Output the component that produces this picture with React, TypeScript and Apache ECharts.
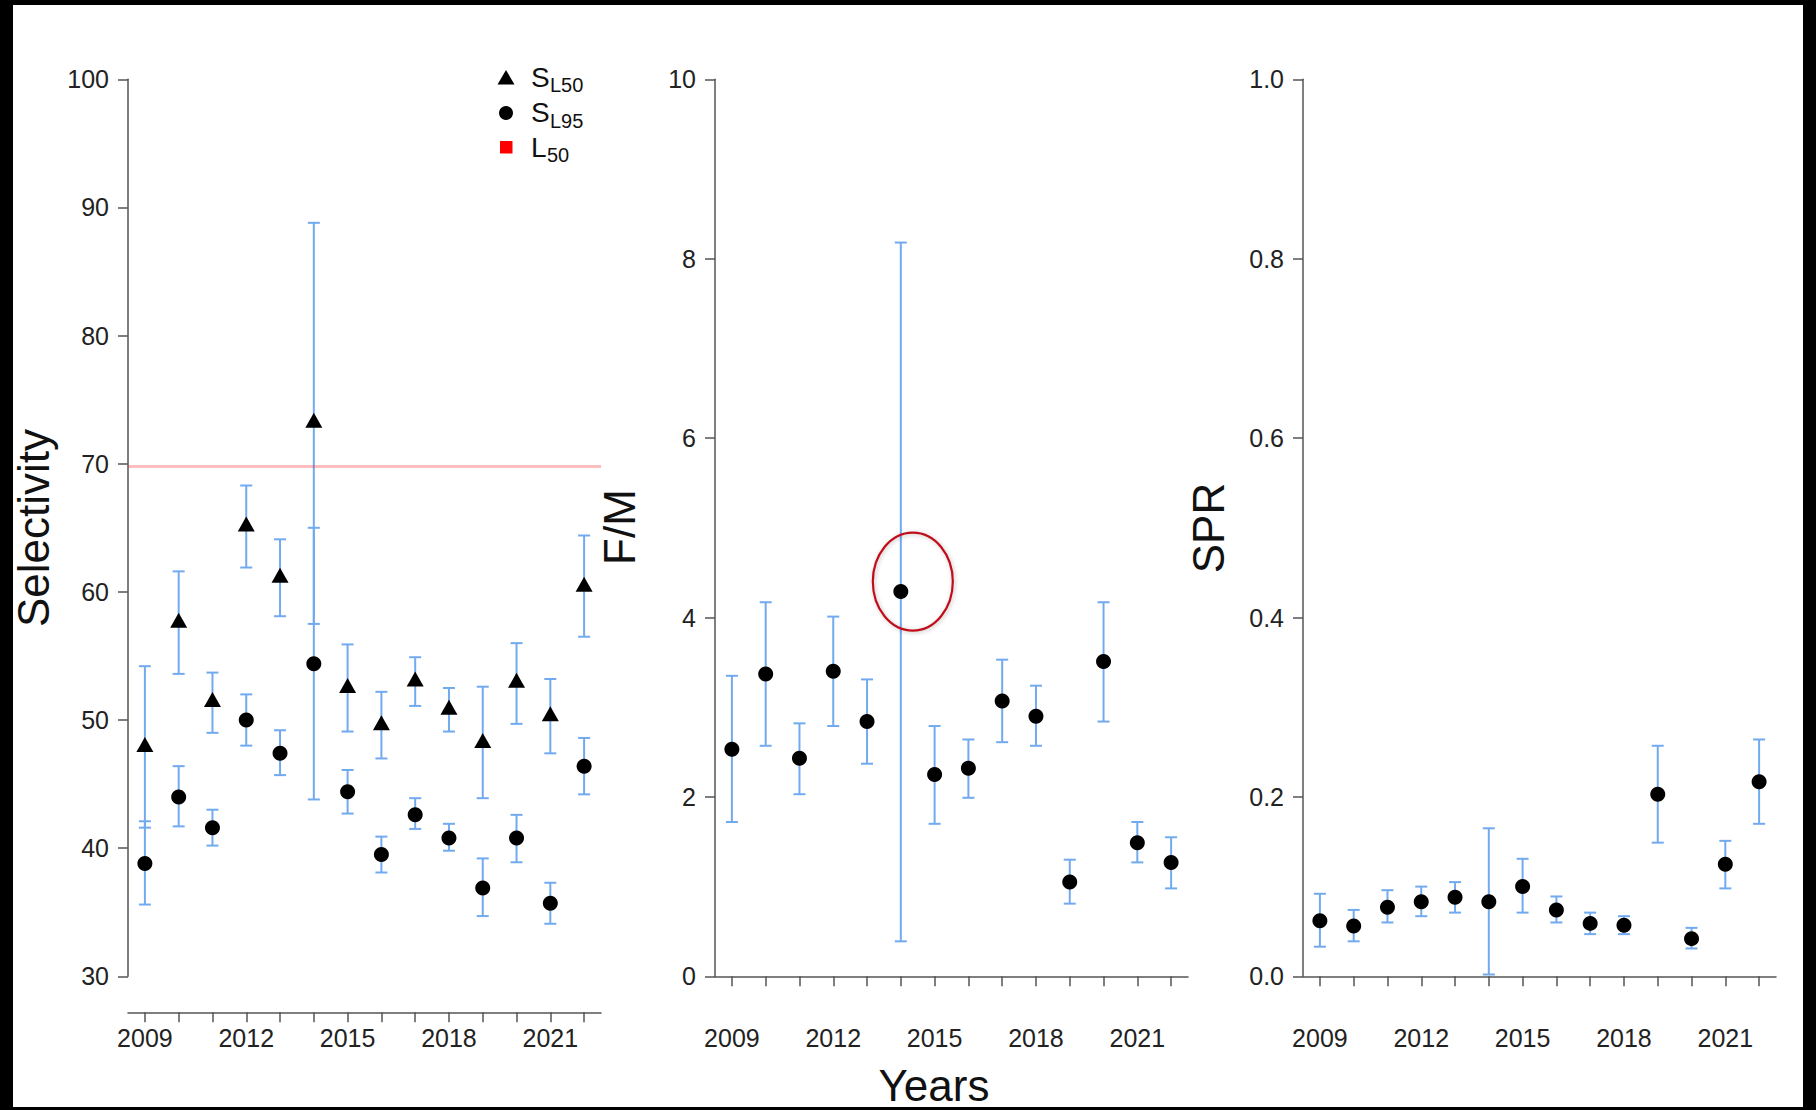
import React, { useEffect, useRef } from 'react';
import * as echarts from 'echarts';

// ---------- data ----------
const years = ['2009', '2010', '2011', '2012', '2013', '2014', '2015', '2016', '2017', '2018', '2019', '2020', '2021', '2022'];

const sl50 = [47.9, 57.6, 51.4, 65.1, 61.1, 73.2, 52.5, 49.6, 53.0, 50.8, 48.2, 52.9, 50.3, 60.4];
const sl50Low = [41.6, 53.6, 49.0, 61.9, 58.1, 57.5, 49.1, 47.0, 51.1, 49.1, 43.9, 49.7, 47.4, 56.5];
const sl50High = [54.2, 61.6, 53.7, 68.3, 64.1, 88.8, 55.9, 52.2, 54.9, 52.5, 52.6, 56.0, 53.2, 64.4];

const sl95 = [38.8, 44.0, 41.6, 50.0, 47.4, 54.4, 44.4, 39.5, 42.6, 40.8, 36.9, 40.8, 35.7, 46.4];
const sl95Low = [35.6, 41.7, 40.2, 48.0, 45.7, 43.8, 42.7, 38.1, 41.5, 39.8, 34.7, 38.9, 34.1, 44.2];
const sl95High = [42.1, 46.4, 43.0, 52.0, 49.2, 65.0, 46.1, 40.9, 43.9, 41.9, 39.2, 42.6, 37.3, 48.6];

const l50 = 69.8;

const fm = [2.53, 3.37, 2.43, 3.40, 2.84, 4.29, 2.25, 2.32, 3.07, 2.90, 1.05, 3.51, 1.49, 1.27];
const fmLow = [1.72, 2.57, 2.03, 2.79, 2.37, 0.39, 1.70, 1.99, 2.61, 2.57, 0.81, 2.84, 1.27, 0.98];
const fmHigh = [3.35, 4.17, 2.82, 4.01, 3.31, 8.18, 2.79, 2.64, 3.53, 3.24, 1.30, 4.17, 1.72, 1.55];

const spr = [0.062, 0.056, 0.077, 0.083, 0.088, 0.083, 0.100, 0.074, 0.059, 0.057, 0.203, 0.042, 0.125, 0.217];
const sprLow = [0.033, 0.039, 0.060, 0.067, 0.071, 0.002, 0.071, 0.060, 0.047, 0.047, 0.149, 0.031, 0.098, 0.170];
const sprHigh = [0.092, 0.074, 0.096, 0.100, 0.105, 0.165, 0.131, 0.089, 0.071, 0.067, 0.257, 0.054, 0.151, 0.264];

// highlighted point (annotation) in F/M panel
const highlightYear = '2014';
const highlightValue = 4.4;

const yTitles = ['Selectivity', 'F/M', 'SPR'];
const xTitle = 'Years';

// ---------- styles ----------
const FONT = '"Liberation Sans", Arial, Helvetica, sans-serif';
const BAR_COLOR = '#72aaef';
const AXIS_COLOR = '#555';
const LABEL_COLOR = '#222';

const gridLefts = [128, 715, 1303];
const GRID_W = 473;
const GRID_TOP = 79.3;
const GRID_H = 897;

function errorSeries(name: string, idx: number, lo: number[], hi: number[]) {
  return {
    name,
    type: 'custom',
    xAxisIndex: idx,
    yAxisIndex: idx,
    silent: true,
    z: 2,
    encode: { x: 0, y: [1, 2] },
    data: years.map((_, i) => [i, lo[i], hi[i]]),
    renderItem: (_params: any, api: any) => {
      const x = api.value(0);
      const p1 = api.coord([x, api.value(1)]);
      const p2 = api.coord([x, api.value(2)]);
      const hw = 6;
      const style = { stroke: BAR_COLOR, lineWidth: 2 };
      return {
        type: 'group',
        children: [
          { type: 'line', shape: { x1: p1[0], y1: p1[1], x2: p2[0], y2: p2[1] }, style },
          { type: 'line', shape: { x1: p1[0] - hw, y1: p1[1], x2: p1[0] + hw, y2: p1[1] }, style },
          { type: 'line', shape: { x1: p2[0] - hw, y1: p2[1], x2: p2[0] + hw, y2: p2[1] }, style },
        ],
      };
    },
  };
}

function xAxisCfg(idx: number) {
  return {
    type: 'category',
    gridIndex: idx,
    data: years,
    boundaryGap: true,
    offset: 36,
    axisLine: { show: true, lineStyle: { color: AXIS_COLOR, width: 1.5 } },
    axisTick: { show: true, alignWithLabel: true, interval: 0, length: 10, lineStyle: { color: AXIS_COLOR, width: 1.5 } },
    axisLabel: { interval: 2, fontSize: 25, fontFamily: FONT, color: LABEL_COLOR, margin: 13 },
    splitLine: { show: false },
  };
}

function yAxisCfg(idx: number, min: number, max: number, interval: number, fmt?: (v: number) => string) {
  return {
    type: 'value',
    gridIndex: idx,
    min,
    max,
    interval,
    axisLine: { show: true, lineStyle: { color: AXIS_COLOR, width: 1.5 } },
    axisTick: { show: true, length: 10, lineStyle: { color: AXIS_COLOR, width: 1.5 } },
    axisLabel: { fontSize: 25, fontFamily: FONT, color: LABEL_COLOR, margin: 19, formatter: fmt },
    splitLine: { show: false },
  };
}

function buildOption() {
  const txt = (text: string, x: number, y: number, size: number, extra: any = {}) => ({
    type: 'text',
    x,
    y,
    silent: true,
    z: 10,
    ...extra,
    style: {
      text,
      fontSize: size,
      fontFamily: FONT,
      fill: '#111',
      align: extra.align || 'left',
      verticalAlign: 'middle',
    },
  });

  const graphic: any[] = [
    // black frame
    { type: 'rect', shape: { x: 0, y: 0, width: 1816, height: 5 }, style: { fill: '#000' }, silent: true },
    { type: 'rect', shape: { x: 0, y: 0, width: 13, height: 1110 }, style: { fill: '#000' }, silent: true },
    { type: 'rect', shape: { x: 1803, y: 0, width: 13, height: 1110 }, style: { fill: '#000' }, silent: true },
    { type: 'rect', shape: { x: 0, y: 1107, width: 1816, height: 3 }, style: { fill: '#000' }, silent: true },
    // axis titles
    txt(yTitles[0], 33, 528, 44, { rotation: Math.PI / 2, align: 'center' }),
    txt(yTitles[1], 619.5, 527, 44, { rotation: Math.PI / 2, align: 'center' }),
    txt(yTitles[2], 1208.5, 528, 44, { rotation: Math.PI / 2, align: 'center' }),
    txt(xTitle, 934, 1085.5, 44, { align: 'center' }),
    // legend
    {
      type: 'polygon',
      silent: true,
      shape: { points: [[497.5, 84.5], [514.5, 84.5], [506, 70]] },
      style: { fill: '#000' },
    },
    { type: 'circle', silent: true, shape: { cx: 506, cy: 113, r: 7 }, style: { fill: '#000' } },
    { type: 'rect', silent: true, shape: { x: 500, y: 141, width: 12.5, height: 12.5 }, style: { fill: '#ff0000' } },
    txt('S', 531, 77, 28),
    txt('L50', 550, 85, 20),
    txt('S', 531, 112.6, 28),
    txt('L95', 550, 120.5, 20),
    txt('L', 531, 147.2, 28),
    txt('50', 547, 155, 20),
  ];

  const grid = gridLefts.map((left) => ({ left, top: GRID_TOP, width: GRID_W, height: GRID_H, containLabel: false }));

  const scatter = (name: string, idx: number, vals: number[], symbol: string, size: any, offset?: number[]) => ({
    name,
    type: 'scatter',
    xAxisIndex: idx,
    yAxisIndex: idx,
    symbol,
    symbolSize: size,
    symbolOffset: offset || [0, 0],
    itemStyle: { color: '#000', opacity: 1 },
    z: 5,
    silent: true,
    data: years.map((y, i) => [y, vals[i]]),
  });

  const sl50Series: any = scatter('SL50', 0, sl50, 'triangle', [17, 15], [0, -2.5]);
  sl50Series.markLine = {
    silent: true,
    symbol: 'none',
    label: { show: false },
    z: 6,
    lineStyle: { color: 'rgba(240,40,40,0.3)', width: 3, type: 'solid' },
    data: [{ yAxis: l50 }],
  };

  const series: any[] = [
    errorSeries('SL50 CI', 0, sl50Low, sl50High),
    errorSeries('SL95 CI', 0, sl95Low, sl95High),
    sl50Series,
    scatter('SL95', 0, sl95, 'circle', 15),
    errorSeries('F/M CI', 1, fmLow, fmHigh),
    scatter('F/M', 1, fm, 'circle', 15),
    errorSeries('SPR CI', 2, sprLow, sprHigh),
    scatter('SPR', 2, spr, 'circle', 15),
    {
      name: 'highlight',
      type: 'custom',
      xAxisIndex: 1,
      yAxisIndex: 1,
      silent: true,
      z: 8,
      data: [[years.indexOf(highlightYear), highlightValue]],
      renderItem: (_p: any, api: any) => {
        const c = api.coord([api.value(0), api.value(1)]);
        return {
          type: 'ellipse',
          shape: { cx: c[0] + 12, cy: c[1], rx: 40, ry: 49 },
          style: {
            fill: 'none',
            stroke: '#c0101c',
            lineWidth: 2.2,
            shadowBlur: 4,
            shadowColor: 'rgba(0,0,0,0.25)',
            shadowOffsetX: 1,
            shadowOffsetY: 1,
          },
        };
      },
    },
  ];

  return {
    animation: false,
    backgroundColor: '#fff',
    textStyle: { fontFamily: FONT },
    grid,
    xAxis: [xAxisCfg(0), xAxisCfg(1), xAxisCfg(2)],
    yAxis: [
      yAxisCfg(0, 30, 100, 10),
      yAxisCfg(1, 0, 10, 2),
      yAxisCfg(2, 0, 1, 0.2, (v: number) => v.toFixed(1)),
    ],
    series,
    graphic,
  };
}

export default function App() {
  const ref = useRef<HTMLDivElement>(null);
  useEffect(() => {
    if (!ref.current) return;
    const chart = echarts.init(ref.current, null, { renderer: 'svg' });
    chart.setOption(buildOption() as any);
    return () => chart.dispose();
  }, []);
  return (
    <div
      ref={ref}
      style={{ position: 'absolute', left: 0, top: 0, width: 1816, height: 1110, background: '#fff' }}
    />
  );
}
